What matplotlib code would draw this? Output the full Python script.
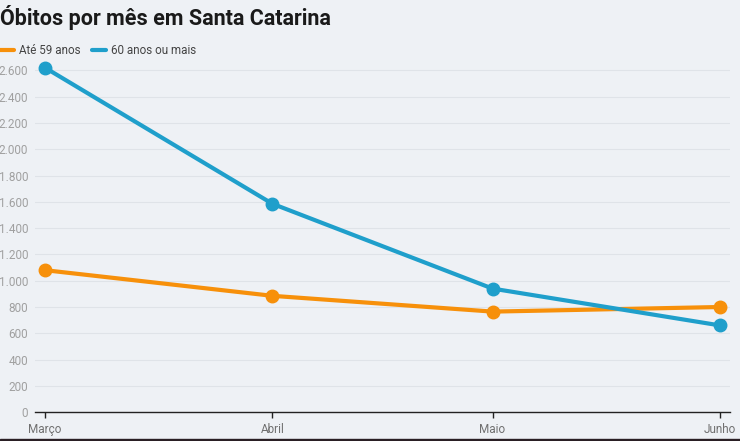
import numpy as np
import matplotlib.pyplot as plt
from matplotlib.ticker import FuncFormatter
from datetime import datetime, timedelta

# Data
months = ['Março', 'Abril', 'Maio', 'Junho']
dates = [datetime(2020, 3, 1), datetime(2020, 4, 1), datetime(2020, 5, 1), datetime(2020, 6, 1)]
ate_59 = [1080, 885, 765, 800]
mais_60 = [2620, 1585, 940, 660]
series_labels = ['Até 59 anos', '60 anos ou mais']
colors = ['#f7900a', '#1f9fcb']

plt.rcParams['font.family'] = ['Roboto', 'DejaVu Sans']
bg = '#eef1f5'

fig = plt.figure(figsize=(7.4, 4.41), dpi=100, facecolor=bg)
ax = fig.add_axes([35 / 740, 28.8 / 441, 695 / 740, 361.6 / 441], facecolor=bg)

for vals, c, lab in zip([ate_59, mais_60], colors, series_labels):
    ax.plot(dates, vals, color=c, lw=3, marker='o', ms=9, label=lab,
            solid_capstyle='round', zorder=3)

ax.set_ylim(0, 2750)
ax.set_yticks(np.arange(0, 2601, 200))
ax.yaxis.set_major_formatter(FuncFormatter(lambda v, p: f'{int(v):,}'.replace(',', '.')))
ax.set_xlim(dates[0] - timedelta(days=1.36), dates[-1] + timedelta(days=1.36))
ax.set_xticks(dates)
ax.set_xticklabels(months)

ax.grid(axis='y', color='#dfe3e8', lw=0.8)
ax.set_axisbelow(True)
for s in ['top', 'right', 'left']:
    ax.spines[s].set_visible(False)
ax.spines['bottom'].set_color('#222222')
ax.spines['bottom'].set_linewidth(1)

ax.tick_params(axis='y', length=0, pad=5, labelsize=8.5, labelcolor='#a0a0a0')
ax.tick_params(axis='x', length=4, width=1, color='#222222', pad=4,
               labelsize=8.5, labelcolor='#707070')

fig.text(0.0, 1 - 17 / 441, 'Óbitos por mês em Santa Catarina', fontsize=15.5,
         fontweight='bold', color='#1a1a1a', va='center', ha='left')

# legend
ly = 1 - 50 / 441
fig.lines.append(plt.Line2D([0 / 740, 14 / 740], [ly, ly], color=colors[0], lw=3,
                            transform=fig.transFigure, solid_capstyle='round'))
fig.text(19 / 740, ly, series_labels[0], fontsize=8.4, color='#444444', va='center')
fig.lines.append(plt.Line2D([92 / 740, 106 / 740], [ly, ly], color=colors[1], lw=3,
                            transform=fig.transFigure, solid_capstyle='round'))
fig.text(111 / 740, ly, series_labels[1], fontsize=8.4, color='#444444', va='center')

# dark strip along the bottom edge
fig.patches.append(plt.Rectangle((0, 0), 1, 2.5 / 441, transform=fig.transFigure,
                                 color='#2a1f24', zorder=0))

fig.savefig('out.png', dpi=100, facecolor=bg)
